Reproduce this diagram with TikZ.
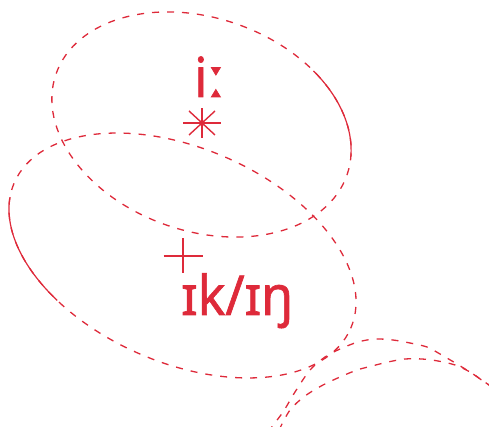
\documentclass[tikz,border=0pt]{standalone}
\usepackage{fontspec}
\setmainfont{Noto Sans}[FakeBold=1.2,FakeStretch=0.94]
\definecolor{ipared}{RGB}{222,42,58}
\begin{document}
\begin{tikzpicture}[x=1pt,y=1pt,
  dashline/.style={draw=ipared,line width=1.3pt,dash pattern=on 7pt off 8pt},
  solidline/.style={draw=ipared,line width=1.2pt},
  marker/.style={draw=ipared,line width=1.4pt},
  ipa/.style={text=ipared,inner sep=0pt,font=\fontsize{55}{60}\selectfont}]
\useasboundingbox (0,0) rectangle (489,427);
\begin{scope}
\clip (0,0) rectangle (489,427);
% top ellipse
\coordinate (c1) at (201.5,302.5);
\begin{scope}[shift={(c1)},rotate=-19.1]
  \draw[dashline] (0,0) ellipse [x radius=154, y radius=106.5];
  \draw[solidline] (10:154 and 106.5) arc[start angle=10,end angle=55,x radius=154,y radius=106.5];
\end{scope}
% bottom ellipse
\coordinate (c2) at (182.5,171.5);
\begin{scope}[shift={(c2)},rotate=-23.4]
  \draw[dashline] (0,0) ellipse [x radius=183.3, y radius=107.3];
  \draw[solidline] (188:183.3 and 107.3) arc[start angle=188,end angle=238,x radius=183.3,y radius=107.3];
\end{scope}
% bottom right arcs
\draw[dashline] plot[smooth] coordinates {(268,-5) (283,15) (295,35) (310,57) (325,70) (340,78) (358,85) (375,88) (393,87) (410,84) (427,80) (440,73) (457,63) (473,53) (489,42) (497,37)};
\draw[dashline] plot[smooth] coordinates {(279,-3) (290,17) (305,31) (323,42) (340,50) (357,57) (372,61) (388,65) (405,68) (422,68) (438,66) (455,62) (470,55) (483,46) (497,37)};
\end{scope}
% text i:
\node[ipa,anchor=base west] (ii) at (194,330) {iː};
% star
\coordinate (st) at (202,304);
\draw[marker] (st) ++(-19,0) -- ++(38,0);
\draw[marker] (st) ++(0,-15) -- ++(0,30);
\draw[marker] (st) ++(-13,-12) -- ++(26,24);
\draw[marker] (st) ++(-13,12) -- ++(26,-24);
\fill[ipared] (st) circle (2.8);
% plus
\coordinate (pl) at (183,171);
\draw[marker] (pl) ++(-19.5,0) -- ++(39,0);
\draw[marker] (pl) ++(0,-17) -- ++(0,35);
% text ik/iŋ
\node[ipa,anchor=base west] (ik) at (181,112) {ɪk/ɪŋ};
\end{tikzpicture}
\end{document}
